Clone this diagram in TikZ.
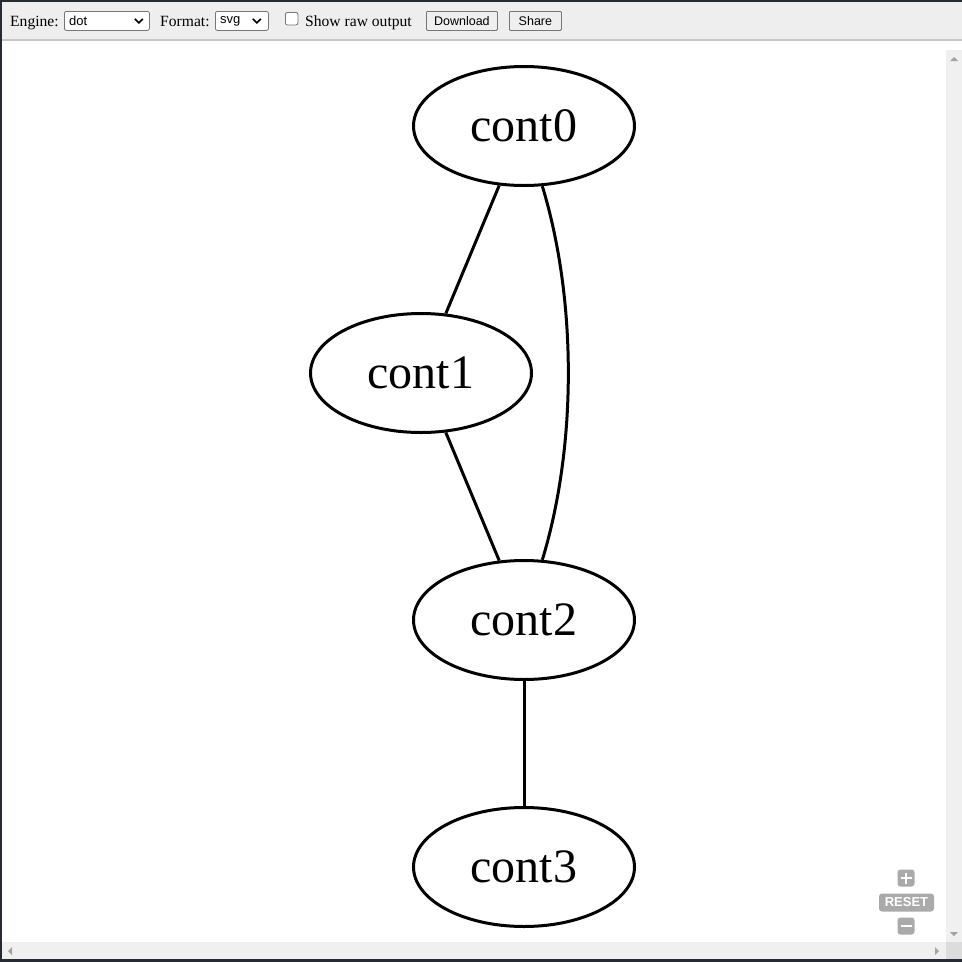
\documentclass[tikz,border=0pt]{standalone}
\usepackage{fontspec}
\setmainfont{Liberation Serif}
\setsansfont{Liberation Sans}
\usepackage{tikz}
\usetikzlibrary{shapes.geometric, positioning}
\definecolor{gvbar}{RGB}{238,238,238}
\definecolor{gvrule}{RGB}{200,200,200}
\definecolor{gvscroll}{RGB}{240,240,240}
\definecolor{gvcorner}{RGB}{220,220,220}
\definecolor{gvarrow}{RGB}{163,163,163}
\definecolor{gvzoom}{RGB}{170,170,170}
\definecolor{gvframe}{RGB}{38,42,50}
\definecolor{gvbtn}{RGB}{239,239,239}
\definecolor{gvedge}{RGB}{118,118,118}

\begin{document}
\begin{tikzpicture}[x=1pt, y=-1pt,
  every node/.style={font=\fontsize{15.6}{18}\selectfont},
  gnode/.style={ellipse, draw=black, line width=3pt, minimum width=221pt,
                minimum height=119pt, inner sep=0pt,
                font=\fontsize{48}{50}\selectfont},
  edge/.style={line width=3pt},
  caption/.style={anchor=base west, inner sep=0pt},
  select/.style={draw=gvedge, fill=white, rounded corners=2pt, line width=0.8pt,
                 minimum height=19pt, anchor=north west, inner sep=0pt},
  seltext/.style={inner sep=0pt, font=\sffamily\fontsize{13}{15}\selectfont},
  chevron/.style={line width=1.6pt, line join=miter},
  button/.style={draw=gvedge, fill=gvbtn, rounded corners=1pt, line width=0.8pt,
                 minimum height=19pt, anchor=north west, inner sep=0pt,
                 font=\sffamily\fontsize{12.5}{15}\selectfont},
  zoombtn/.style={fill=gvzoom, rounded corners=3pt, minimum size=17pt, inner sep=0pt},
  scrollarrow/.style={fill=gvarrow},
]
\useasboundingbox (0,0) rectangle (962,962);

% ── Window frame and toolbar ──
\fill[white] (0,0) rectangle (962,962);
\fill[gvbar] (0,0) rectangle (962,39);
\fill[gvrule] (0,39) rectangle (962,40.5);
\fill[gvframe] (0,0) rectangle (962,1.5);
\fill[gvframe] (0,0) rectangle (2,962);
\fill[gvframe] (0,958.5) rectangle (962,962);

\node[caption] (engine) at (10,26) {Engine:};
\node[select, minimum width=85pt] (sel1) at (64,11) {};
\node[seltext, right=5pt of sel1.west] (dot) {dot};
\draw[chevron] ([xshift=-11pt]sel1.east) ++(-4,-2) -- ++(4,4) -- ++(4,-4);

\node[caption] (format) at (160,26) {Format:};
\node[select, minimum width=53pt] (sel2) at (215,11) {};
\node[seltext, right=5pt of sel2.west] (svg) {svg};
\draw[chevron] ([xshift=-12pt]sel2.east) ++(-4,-2) -- ++(4,4) -- ++(4,-4);

\node[select, minimum width=12.5pt, minimum height=12.5pt, rounded corners=2pt] (raw) at (285,12) {};
\node[caption] (rawtext) at (305,26) {Show raw output};

\node[button, minimum width=71pt] (download) at (426,11) {Download};
\node[button, minimum width=52pt] (share) at (509,11) {Share};

% ── Graph ──
\node[gnode] (cont0) at (524,126) {cont0};
\node[gnode] (cont1) at (421,373) {cont1};
\node[gnode] (cont2) at (524,620) {cont2};
\node[gnode] (cont3) at (524,867) {cont3};

\draw[edge] (cont0) -- (cont1);
\draw[edge] (cont1) -- (cont2);
\draw[edge] (cont0) .. controls (577,300) and (577,446) .. (cont2);
\draw[edge] (cont2) -- (cont3);

% ── Zoom controls ──
\node[zoombtn] (zin) at (906,878) {};
\draw[white, line width=2.8pt] ([xshift=-5.5pt]zin.center) -- ([xshift=5.5pt]zin.center)
  ([yshift=-5.5pt]zin.center) -- ([yshift=5.5pt]zin.center);
\node[zoombtn, minimum width=55pt, minimum height=18pt, text=white,
      font=\sffamily\bfseries\fontsize{13}{14}\selectfont] (reset) at (906.5,902.5) {RESET};
\node[zoombtn] (zout) at (906,926) {};
\draw[white, line width=2.8pt] ([xshift=-5.5pt]zout.center) -- ([xshift=5.5pt]zout.center);

% ── Scrollbars ──
\fill[gvscroll] (946,50) rectangle (962,942);
\fill[gvscroll] (2,942) rectangle (946,958.5);
\fill[gvcorner] (946,942) rectangle (962,958.5);
\fill[scrollarrow] (950,61) -- (958,61) -- (954,57) -- cycle;
\fill[scrollarrow] (950,932) -- (958,932) -- (954,936) -- cycle;
\fill[scrollarrow] (12,947) -- (12,955) -- (8,951) -- cycle;
\fill[scrollarrow] (935,947) -- (935,955) -- (939,951) -- cycle;

\end{tikzpicture}
\end{document}
